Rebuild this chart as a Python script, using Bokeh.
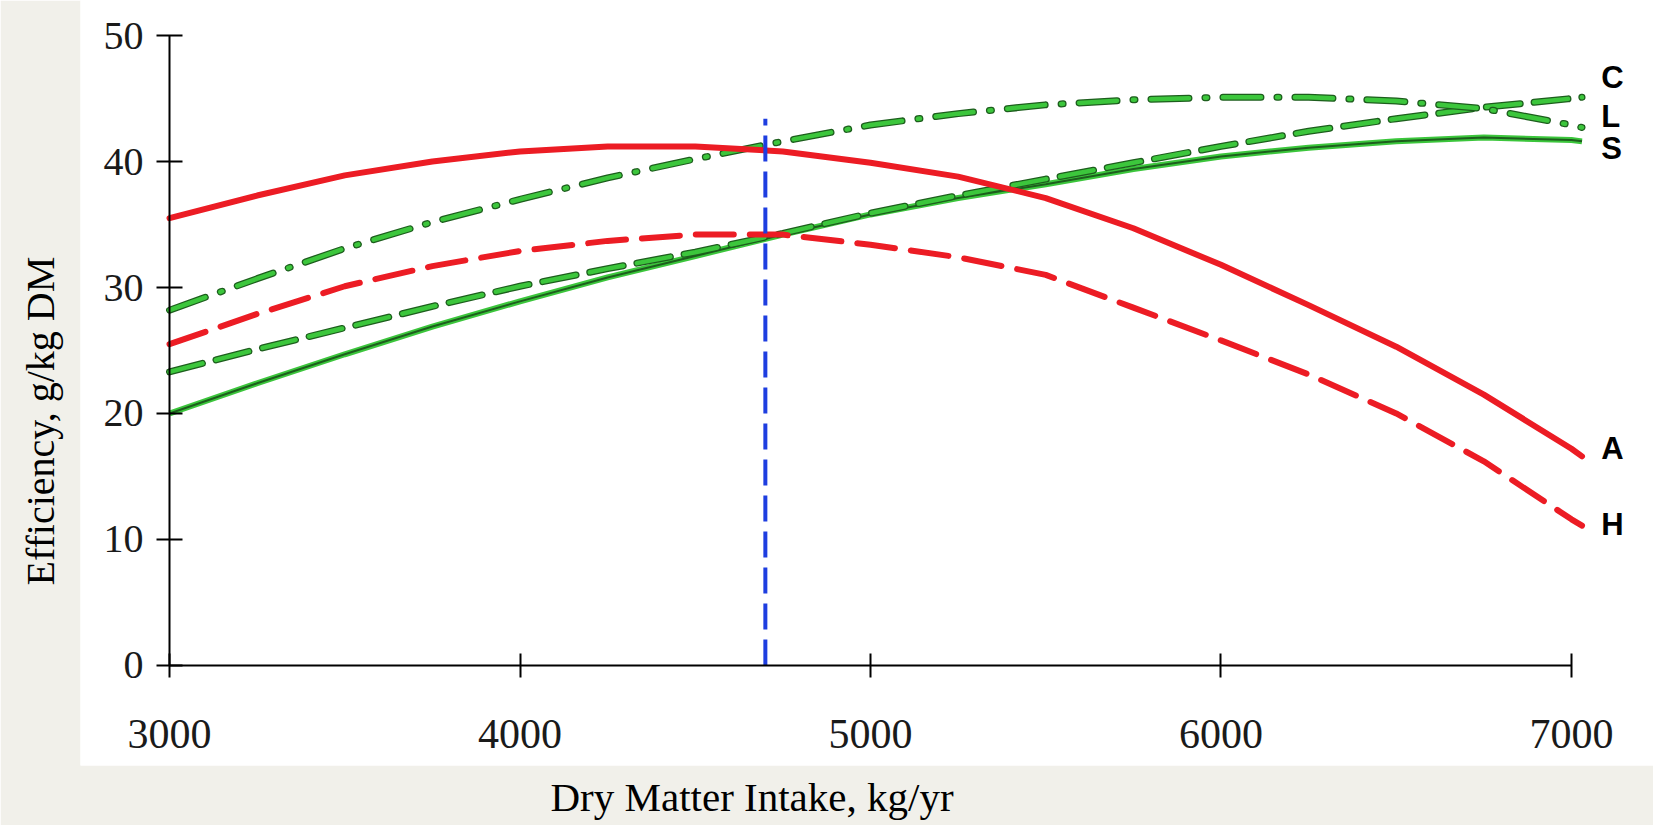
from bokeh.plotting import figure
from bokeh.models import FixedTicker, Range1d, Title
from bokeh.embed import file_html
from bokeh.resources import INLINE
from bokeh.core.properties import value

# Dry matter intake, kg/yr
intake = [3000, 3250, 3500, 3750, 4000, 4250, 4500, 4750, 5000, 5250, 5500,
          5750, 6000, 6250, 6500, 6750, 7000, 7030]

# Efficiency, g/kg DM
eff_A = [35.5, 37.3, 38.9, 40.0, 40.8, 41.2, 41.2, 40.8, 39.9, 38.8, 37.1,
         34.7, 31.8, 28.6, 25.3, 21.5, 17.2, 16.6]
eff_H = [25.5, 27.9, 30.1, 31.7, 32.9, 33.7, 34.2, 34.2, 33.4, 32.4, 31.0,
         28.4, 25.8, 23.1, 20.0, 16.2, 11.6, 11.1]
eff_S = [20.0, 22.4, 24.7, 26.9, 28.9, 30.8, 32.5, 34.2, 35.8, 37.1, 38.2,
         39.4, 40.4, 41.1, 41.6, 41.9, 41.7, 41.6]
eff_C = [23.3, 25.1, 26.8, 28.5, 30.1, 31.5, 32.8, 34.3, 35.9, 37.3, 38.6,
         39.9, 41.2, 42.4, 43.4, 44.3, 45.0, 45.1]
eff_L = [28.2, 30.7, 33.1, 35.2, 37.0, 38.7, 40.2, 41.6, 42.9, 43.8, 44.5,
         44.9, 45.1, 45.1, 44.8, 44.2, 42.9, 42.7]

marker_intake = 4700
marker_top = 43.4

x_ticks = [3000, 4000, 5000, 6000, 7000]
y_ticks = [0, 10, 20, 30, 40, 50]

curve_names = ["C", "L", "S", "A", "H"]
curve_label_y = [46.7, 43.6, 41.0, 17.2, 11.2]
curve_label_x = [7085, 7085, 7085, 7085, 7085]

x_title = "Dry Matter Intake, kg/yr"
y_title = "Efficiency, g/kg DM"

RED = "#ec1c24"
GREEN = "#3cc63c"
DKGREEN = "#1d5e1d"
BLUE = "#1e3ee0"
BEIGE = "#f1f0ea"

p = figure(width=1653, height=825, output_backend="svg", toolbar_location=None,
           x_range=Range1d(2746, 7234), y_range=Range1d(-7.94, 52.78),
           min_border_left=80, min_border_right=0, min_border_top=0,
           min_border_bottom=60, background_fill_color="white",
           border_fill_color=BEIGE, outline_line_color=None)
p.grid.visible = False

# main axes, drawn at fixed data locations inside the white area
xa = p.xaxis[0]
xa.fixed_location = 0
xa.bounds = (3000, 7000)
xa.ticker = FixedTicker(ticks=x_ticks)
xa.minor_tick_line_color = None
xa.major_tick_in = 12
xa.major_tick_out = 12
xa.axis_line_width = 2
xa.major_tick_line_width = 2
xa.major_label_standoff = 43
xa.major_label_text_font = "Liberation Serif"
xa.major_label_text_font_size = "42px"
xa.major_label_text_color = "#1a1a1a"

ya = p.yaxis[0]
ya.fixed_location = 3000
ya.bounds = (0, 50)
ya.ticker = FixedTicker(ticks=y_ticks)
ya.minor_tick_line_color = None
ya.major_tick_in = 13
ya.major_tick_out = 13
ya.axis_line_width = 2
ya.major_tick_line_width = 2
ya.major_label_standoff = 13
ya.major_label_text_font = "Liberation Serif"
ya.major_label_text_font_size = "40px"
ya.major_label_text_color = "#1a1a1a"

# axis titles on the beige border
p.add_layout(Title(text=x_title, align="left", offset=470,
                   vertical_align="bottom", standoff=12,
                   text_font="Liberation Serif", text_font_size="41px",
                   text_font_style="normal", text_color="black"), "below")
p.add_layout(Title(text=y_title, align="left", offset=180,
                   vertical_align="top", standoff=31,
                   text_font="Liberation Serif", text_font_size="40px",
                   text_font_style="normal", text_color="black"), "left")

# green curves (dark outline under bright green)
p.line(intake, eff_S, line_color=GREEN, line_width=6)
p.line(intake, eff_S, line_color=DKGREEN, line_width=2)
p.line(intake, eff_C, line_color=DKGREEN, line_width=7, line_dash="34 14",
       line_cap="round")
p.line(intake, eff_C, line_color=GREEN, line_width=4.5, line_dash="34 14",
       line_cap="round")
p.line(intake, eff_L, line_color=DKGREEN, line_width=7, line_dash="38 16 2 16",
       line_cap="round")
p.line(intake, eff_L, line_color=GREEN, line_width=4.5, line_dash="38 16 2 16",
       line_cap="round")

# red curves
p.line(intake, eff_A, line_color=RED, line_width=6, line_cap="round")
p.line(intake, eff_H, line_color=RED, line_width=6, line_dash="38 16",
       line_cap="round")

# blue marker line
p.line([marker_intake, marker_intake], [0, marker_top], line_color=BLUE,
       line_width=4, line_dash="26 10")

p.text(x=curve_label_x, y=curve_label_y, text=curve_names,
       text_font=value("Liberation Sans"), text_font_style="bold",
       text_font_size="31px", text_color="black", text_align="left",
       text_baseline="middle")

html = file_html(p, INLINE)
open("out.html", "w").write(html)
